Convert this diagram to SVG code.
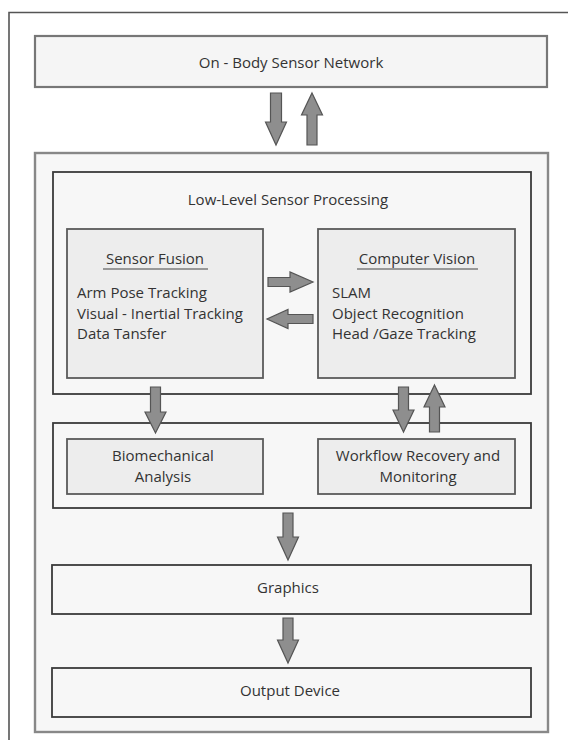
<svg xmlns="http://www.w3.org/2000/svg" width="568" height="740" viewBox="0 0 568 740">
<style>
text{font-family:"Open Sans","Liberation Sans",sans-serif;font-size:15px;fill:#333}
.c{text-anchor:middle}
.box{fill:#f5f5f5;stroke:#777;stroke-width:2.2}
.big{fill:#f7f7f7;stroke:#888;stroke-width:2.4}
.inner{fill:#ededed;stroke:#5a5a5a;stroke-width:1.8}
.frame{fill:#f7f7f7;stroke:#3a3a3a;stroke-width:1.8}
.arr{fill:#8e8e8e;stroke:#555;stroke-width:1.2;stroke-linejoin:miter}
.ul{stroke:#444;stroke-width:1.2}
</style>
<rect width="568" height="740" fill="#fff"/>
<path d="M9,740 V12.5 H568" fill="none" stroke="#555" stroke-width="1.6"/>
<g id="onbody">
<rect class="box" x="35" y="36" width="512" height="51"/>
<text class="c" x="291" y="68">On - Body Sensor Network</text>
</g>
<g id="system">
<rect class="big" x="35" y="153" width="513" height="579"/>
</g>
<g id="lowlevel">
<rect class="frame" x="53" y="172" width="478" height="222"/>
<text class="c" x="288" y="205">Low-Level Sensor Processing</text>
</g>
<g id="fusion">
<rect class="inner" x="67" y="229" width="196" height="149"/>
<text class="c" x="155" y="264">Sensor Fusion</text>
<line class="ul" x1="103" y1="269" x2="208" y2="269"/>
<text x="77" y="298">Arm Pose Tracking</text>
<text x="77" y="318.5">Visual - Inertial Tracking</text>
<text x="77" y="338.5">Data Tansfer</text>
</g>
<g id="vision">
<rect class="inner" x="318" y="229" width="197" height="149"/>
<text class="c" x="417" y="264">Computer Vision</text>
<line class="ul" x1="357" y1="269" x2="478" y2="269"/>
<text x="332" y="298">SLAM</text>
<text x="332" y="318.5">Object Recognition</text>
<text x="332" y="338.5">Head /Gaze Tracking</text>
</g>
<g id="analysis">
<rect class="frame" x="53" y="423" width="478" height="85"/>
</g>
<g id="biomech">
<rect class="inner" x="67" y="439" width="196" height="55"/>
<text class="c" x="163" y="461">Biomechanical</text>
<text class="c" x="163" y="482">Analysis</text>
</g>
<g id="workflow">
<rect class="inner" x="318" y="439" width="197" height="55"/>
<text class="c" x="418" y="461">Workflow Recovery and</text>
<text class="c" x="418" y="482">Monitoring</text>
</g>
<g id="graphics">
<rect class="frame" x="52" y="565" width="479" height="49"/>
<text class="c" x="288" y="593">Graphics</text>
</g>
<g id="output">
<rect class="frame" x="52" y="668" width="479" height="49"/>
<text class="c" x="290" y="696">Output Device</text>
</g>
<g id="connectors">
<polygon class="arr" points="270.5,93 281.5,93 281.5,122 286.5,122 276,145 265.5,122 270.5,122"/>
<polygon class="arr" points="312,93 322.5,115 317,115 317,145 307,145 307,115 301.5,115"/>
<polygon class="arr" points="268,277.5 290,277.5 290,272 313,282 290,292 290,286.5 268,286.5"/>
<polygon class="arr" points="313,314.5 288,314.5 288,309.5 267,319 288,328.5 288,323.5 313,323.5"/>
<polygon class="arr" points="150.5,387 160.5,387 160.5,412 166,412 155.5,433 145,412 150.5,412"/>
<polygon class="arr" points="398.5,387 408.5,387 408.5,410 414,410 403.5,432 393,410 398.5,410"/>
<polygon class="arr" points="434.5,385 445,407 439.5,407 439.5,432 429.5,432 429.5,407 424,407"/>
<polygon class="arr" points="283,513 293,513 293,537 298.5,537 288,560 277.5,537 283,537"/>
<polygon class="arr" points="283,618 293,618 293,640 298.5,640 288,663 277.5,640 283,640"/>
</g>
</svg>
